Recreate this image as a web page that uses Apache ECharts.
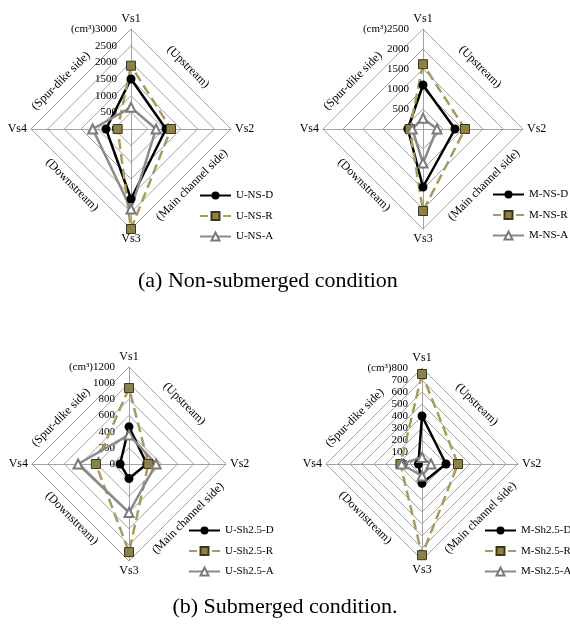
<!DOCTYPE html>
<html>
<head>
<meta charset="utf-8">
<script src="https://cdn.jsdelivr.net/npm/echarts@6/dist/echarts.min.js"></script>
<style>html,body{margin:0;padding:0;background:#fff}#c{width:570px;height:624px}</style>
</head>
<body>
<div id="c"></div>
<script>
// ---------------- DATA ----------------
const axisNames = ['Vs1', 'Vs2', 'Vs3', 'Vs4'];
const sideNames = ['(Upstream)', '(Main channel side)', '(Downstream)', '(Spur-dike side)'];
const unitLabel = '(cm\u00b3)';
const captionA = '(a) Non-submerged condition';
const captionB = '(b) Submerged condition.';

// chart 1: U-NS  (values in order Vs1, Vs2, Vs3, Vs4)
const uNsMax = 3000, uNsStep = 500;
const uNsNames = ['U-NS-D', 'U-NS-R', 'U-NS-A'];
const uNsD = [1500, 1050, 2100, 750];
const uNsR = [1900, 1200, 3000, 400];
const uNsA = [650, 750, 2400, 1150];

// chart 2: M-NS
const mNsMax = 2500, mNsStep = 500;
const mNsNames = ['M-NS-D', 'M-NS-R', 'M-NS-A'];
const mNsD = [1100, 800, 1450, 380];
const mNsR = [1620, 1050, 2050, 330];
const mNsA = [270, 350, 850, 270];

// chart 3: U-Sh2.5
const uShMax = 1200, uShStep = 200;
const uShNames = ['U-Sh2.5-D', 'U-Sh2.5-R', 'U-Sh2.5-A'];
const uShD = [460, 220, 180, 110];
const uShR = [940, 240, 1090, 410];
const uShA = [360, 335, 600, 630];

// chart 4: M-Sh2.5
const mShMax = 800, mShStep = 100;
const mShNames = ['M-Sh2.5-D', 'M-Sh2.5-R', 'M-Sh2.5-A'];
const mShD = [400, 200, 160, 30];
const mShR = [750, 300, 760, 180];
const mShA = [55, 75, 100, 170];

// ---------------- LAYOUT / STYLE ----------------
const FONT = 'Liberation Serif';
const panels = [
  { max: uNsMax, step: uNsStep, names: uNsNames, vals: [uNsD, uNsR, uNsA], center: [131, 129], r: 100, legend: [199, 190] },
  { max: mNsMax, step: mNsStep, names: mNsNames, vals: [mNsD, mNsR, mNsA], center: [423, 129], r: 100, legend: [492, 189] },
  { max: uShMax, step: uShStep, names: uShNames, vals: [uShD, uShR, uShA], center: [129, 464], r: 97, legend: [188, 525] },
  { max: mShMax, step: mShStep, names: mShNames, vals: [mShD, mShR, mShA], center: [422, 464], r: 96, legend: [484, 525] }
];
// radar is laid out counter-clockwise from top: Vs1, Vs4, Vs3, Vs2
const order = [0, 3, 2, 1];
const styles = [
  { line: { color: '#000', width: 2.5, type: 'solid' }, symbol: 'circle', size: 9, item: { color: '#000' } },
  { line: { color: '#a89c5c', width: 2.5, type: [10, 5] }, symbol: 'rect', size: 9, item: { color: '#8c8146', borderColor: '#3d3818', borderWidth: 1 } },
  { line: { color: '#8a8a8a', width: 2.5, type: 'solid' }, symbol: 'emptyTriangle', size: 9, item: { color: '#7a7a7a', borderWidth: 1.2 } }
];
const legendDash = [8, 15];
// side label offsets relative to radius
const sidePos = [[0.57, -0.62, -Math.PI / 4], [0.61, 0.56, Math.PI / 4], [-0.59, 0.56, -Math.PI / 4], [-0.70, -0.48, Math.PI / 4]];

const radar = [], series = [], legend = [], graphic = [];

// invisible line series (empty) so legend icons draw as line + marker
panels.forEach(function (p) {
  p.names.forEach(function (n, si) {
    const st = styles[si];
    series.push({
      type: 'line', name: n, data: [], xAxisIndex: 0, yAxisIndex: 0,
      symbol: st.symbol, symbolSize: st.size, lineStyle: st.line, itemStyle: st.item, silent: true
    });
  });
});

panels.forEach(function (p, pi) {
  const ind = order.map(function (k, j) {
    const o = { name: axisNames[k], min: 0, max: p.max };
    if (j === 0) {
      o.axisLabel = {
        show: true, margin: 14, color: '#000', fontFamily: FONT, fontSize: 11,
        formatter: function (v) { return v === p.max ? unitLabel + v : String(v); }
      };
    }
    return o;
  });
  radar.push({
    center: p.center, radius: p.r, shape: 'polygon', startAngle: 90,
    splitNumber: p.max / p.step,
    indicator: ind,
    nameGap: 4,
    axisName: { color: '#000', fontFamily: FONT, fontSize: 12 },
    splitLine: { lineStyle: { color: '#a3a3a3', width: 1 } },
    splitArea: { show: false },
    axisLine: { lineStyle: { color: '#a3a3a3', width: 1 } },
    axisTick: { show: false },
    axisLabel: { show: false }
  });
  p.names.forEach(function (n, si) {
    const st = styles[si];
    series.push({
      type: 'radar', name: n, radarIndex: pi, silent: true,
      symbol: st.symbol, symbolSize: st.size,
      lineStyle: st.line, itemStyle: st.item,
      data: [{ name: n, value: order.map(function (k) { return p.vals[si][k]; }) }]
    });
  });
  legend.push({
    orient: 'vertical', left: p.legend[0], top: p.legend[1], padding: 0,
    itemWidth: 31, itemHeight: 10, itemGap: 9.5,
    data: p.names.map(function (n, si) {
      return si === 1 ? { name: n, lineStyle: { type: legendDash } } : { name: n };
    }),
    textStyle: { color: '#000', fontFamily: FONT, fontSize: 11 }
  });
  sideNames.forEach(function (s, k) {
    const sp = sidePos[k];
    graphic.push({
      type: 'text', x: p.center[0] + sp[0] * p.r, y: p.center[1] + sp[1] * p.r, rotation: sp[2],
      style: { text: s, fontFamily: FONT, fontSize: 12, fill: '#000', align: 'center', verticalAlign: 'middle' }
    });
  });
});

const chart = echarts.init(document.getElementById('c'), null, { renderer: 'canvas' });
chart.setOption({
  animation: false,
  backgroundColor: '#fff',
  title: [
    { text: captionA, left: 138, top: 270, padding: 0, textStyle: { fontFamily: FONT, fontSize: 22, fontWeight: 'normal', color: '#000' } },
    { text: captionB, left: 'center', top: 596, padding: 0, textStyle: { fontFamily: FONT, fontSize: 22, fontWeight: 'normal', color: '#000' } }
  ],
  grid: { left: 0, top: 0, width: 1, height: 1, show: false },
  xAxis: { type: 'value', show: false },
  yAxis: { type: 'value', show: false },
  radar: radar,
  legend: legend,
  graphic: graphic,
  series: series
});
</script>
</body>
</html>
